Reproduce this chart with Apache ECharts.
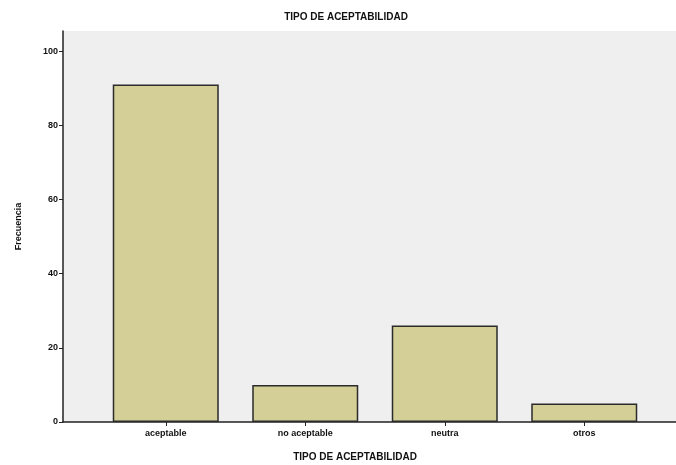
<!DOCTYPE html>
<html>
<head>
<meta charset="utf-8">
<script src="https://cdn.jsdelivr.net/npm/echarts@6/dist/echarts.min.js"></script>
<style>
html,body{margin:0;padding:0;background:#fff;}
#c{width:676px;height:465px;}
</style>
</head>
<body>
<div id="c"></div>
<script>
const chartTitle = 'TIPO DE ACEPTABILIDAD';
const xAxisTitle = 'TIPO DE ACEPTABILIDAD';
const yAxisTitle = 'Frecuencia';
const categories = ['aceptable', 'no aceptable', 'neutra', 'otros'];
const frequencies = [91, 10, 26, 5];
const yTicks = [0, 20, 40, 60, 80, 100];

const font = 'Liberation Sans, Arial, sans-serif';
const chart = echarts.init(document.getElementById('c'), null, {renderer: 'canvas'});
const yMax = 105.4;
chart.setOption({
  animation: false,
  backgroundColor: '#ffffff',
  title: [
    {text: chartTitle, left: 341, top: 7, textAlign: 'center',
     textStyle: {fontFamily: font, fontSize: 10, fontWeight: 'bold', color: '#111'}},
    {text: xAxisTitle, left: 350, top: 447, textAlign: 'center',
     textStyle: {fontFamily: font, fontSize: 10, fontWeight: 'bold', color: '#111'}}
  ],
  grid: [
    {left: 63, right: 0, top: 31, bottom: 43, show: true, backgroundColor: '#efefef', borderWidth: 0},
    {left: 96, width: 558, top: 31, bottom: 43}
  ],
  xAxis: [
    {gridIndex: 0, type: 'value', min: 0, max: 1,
     axisLine: {show: true, lineStyle: {color: '#222', width: 1.5}},
     axisTick: {show: false}, axisLabel: {show: false}, splitLine: {show: false}},
    {gridIndex: 1, type: 'category', data: categories,
     axisLine: {show: false},
     axisTick: {show: true, alignWithLabel: true, length: 4, lineStyle: {color: '#222'}},
     axisLabel: {fontFamily: font, fontSize: 9, fontWeight: 'bold', color: '#111', margin: 7},
     splitLine: {show: false}}
  ],
  yAxis: [
    {gridIndex: 0, type: 'value', min: 0, max: yMax,
     name: yAxisTitle, nameLocation: 'middle', nameGap: 40,
     nameTextStyle: {fontFamily: font, fontSize: 9, fontWeight: 'bold', color: '#111'},
     axisLine: {show: true, lineStyle: {color: '#222', width: 1.5}},
     axisTick: {show: true, length: 4, customValues: yTicks, lineStyle: {color: '#222'}},
     axisLabel: {customValues: yTicks, fontFamily: font, fontSize: 9, fontWeight: 'bold', color: '#111', margin: 5},
     splitLine: {show: false}},
    {gridIndex: 1, type: 'value', min: 0, max: yMax, show: false}
  ],
  series: [{
    type: 'bar', xAxisIndex: 1, yAxisIndex: 1,
    data: frequencies, barWidth: 106,
    itemStyle: {color: '#d3cf97', borderColor: '#2b2b2b', borderWidth: 1.5}
  }]
});
</script>
</body>
</html>
